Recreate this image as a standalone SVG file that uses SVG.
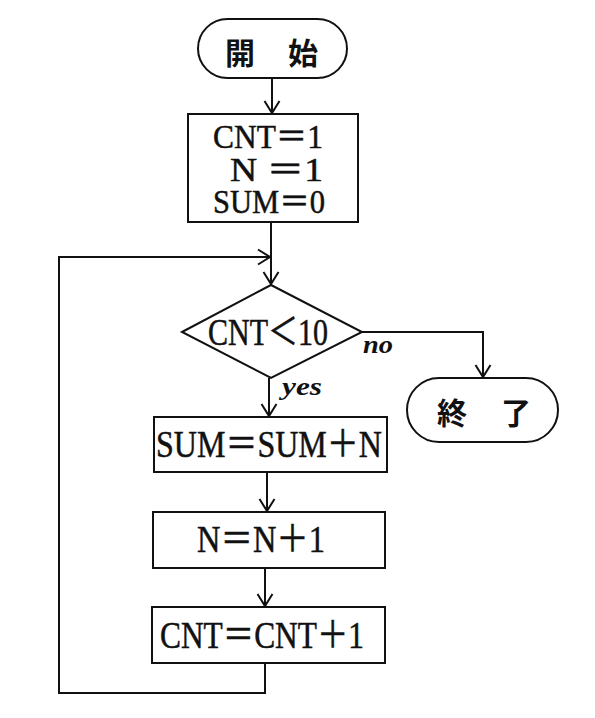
<svg xmlns="http://www.w3.org/2000/svg" width="595" height="718" viewBox="0 0 595 718">
<defs>
<style>
.shape{fill:#fff;stroke:#111;stroke-width:2}
.line{fill:none;stroke:#111;stroke-width:2}
.t{font-family:'Liberation Serif','Noto Sans CJK JP',serif;font-size:37px;fill:#111;stroke:#111;stroke-width:0.5}
.t2{font-family:'Liberation Serif','Noto Sans CJK JP',serif;font-size:33px;fill:#111;stroke:#111;stroke-width:0.5}
.cjk{font-family:'Noto Sans CJK JP','Noto Sans CJK SC',sans-serif;font-size:30px;font-weight:bold;fill:#111;text-anchor:middle;dominant-baseline:central}
.lbl{font-family:'Liberation Serif',serif;font-size:26px;font-style:italic;font-weight:bold;fill:#111}
</style>
<marker id="arr" markerUnits="userSpaceOnUse" markerWidth="16" markerHeight="18" refX="13" refY="9" orient="auto" viewBox="0 0 16 18">
<path d="M1,1.5 L13,9 L1,16.5" fill="none" stroke="#111" stroke-width="2"/>
</marker>
</defs>
<rect width="595" height="718" fill="#fff"/>
<g id="connectors">
<path class="line" d="M272,78 V113" marker-end="url(#arr)"/>
<path class="line" d="M271,222 V284" marker-end="url(#arr)"/>
<path class="line" d="M265,663 V693 H59 V257 H270" marker-end="url(#arr)"/>
<path class="line" d="M362,332 H483 V377" marker-end="url(#arr)"/>
<path class="line" d="M269,378 V416" marker-end="url(#arr)"/>
<path class="line" d="M267,472 V511" marker-end="url(#arr)"/>
<path class="line" d="M265,568 V606" marker-end="url(#arr)"/>
</g>
<g id="start">
<rect class="shape" x="198" y="19" width="149" height="59" rx="29.5" ry="29.5"/>
<text class="cjk" x="240" y="51">開</text>
<text class="cjk" x="303" y="51">始</text>
</g>
<g id="init">
<rect class="shape" x="188" y="114" width="170" height="108"/>
<text class="t2" xml:space="preserve"><tspan x="213" y="148" textLength="110" lengthAdjust="spacingAndGlyphs">CNT＝1</tspan><tspan x="230" y="181" textLength="93" lengthAdjust="spacingAndGlyphs">N ＝1</tspan><tspan x="213" y="213" textLength="112" lengthAdjust="spacingAndGlyphs">SUM＝0</tspan></text>
</g>
<g id="decision">
<polygon class="shape" points="182,332 271,285 362,332 271,378"/>
<text class="t" x="208" y="345" textLength="120" lengthAdjust="spacingAndGlyphs">CNT＜10</text>
<text class="lbl" x="363" y="353" textLength="30" lengthAdjust="spacingAndGlyphs">no</text>
<text class="lbl" x="282" y="395" textLength="40" lengthAdjust="spacingAndGlyphs">yes</text>
</g>
<g id="end">
<rect class="shape" x="407" y="378" width="151" height="64" rx="32" ry="32"/>
<text class="cjk" x="452" y="411">終</text>
<text class="cjk" x="516" y="411">了</text>
</g>
<g id="sum">
<rect class="shape" x="154" y="417" width="233" height="55"/>
<text class="t" x="156" y="457" textLength="226" lengthAdjust="spacingAndGlyphs">SUM＝SUM＋N</text>
</g>
<g id="incn">
<rect class="shape" x="153" y="512" width="232" height="56"/>
<text class="t" x="197" y="552" textLength="128" lengthAdjust="spacingAndGlyphs">N＝N＋1</text>
</g>
<g id="inccnt">
<rect class="shape" x="152" y="607" width="233" height="56"/>
<text class="t" x="160" y="648" textLength="204" lengthAdjust="spacingAndGlyphs">CNT＝CNT＋1</text>
</g>
</svg>
